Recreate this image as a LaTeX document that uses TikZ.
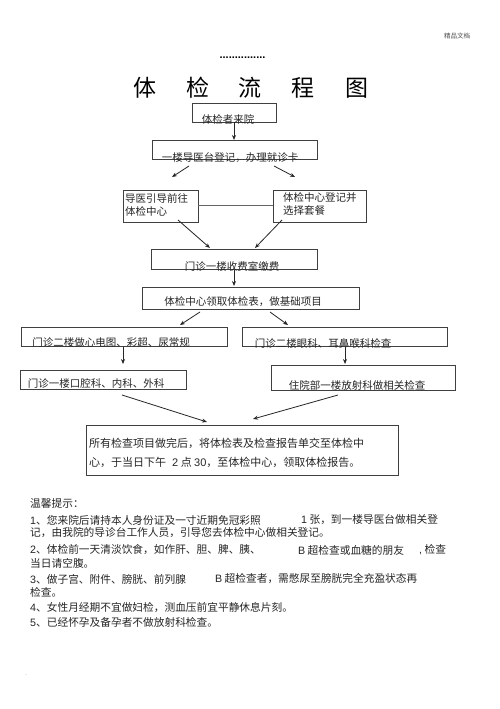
\documentclass[tikz,border=0pt]{standalone}
\usepackage{fontspec}
\setmainfont{Liberation Sans}
\newfontfamily\cjk{Noto Sans CJK SC}
\usetikzlibrary{arrows.meta}
\begin{document}
\begin{tikzpicture}[x=1pt,y=-1pt,
  box/.style={draw=black!75,line width=0.7pt},
  txt/.style={inner sep=0pt,font=\cjk\fontsize{10.5}{12}\selectfont,text=black!85},
  ltxt/.style={txt,anchor=west},
  tip/.style={inner sep=0pt,anchor=west,font=\cjk\fontsize{10.7}{12}\selectfont,text=black!85},
  arr/.style={draw=black!85,line width=0.8pt,-{Stealth[length=5pt,width=4pt]}},
  ttl/.style={inner sep=0pt,font=\cjk\fontsize{23}{25}\selectfont}]
\useasboundingbox (0,0) rectangle (500,709);
\fill[white] (0,0) rectangle (500,709);

% header
\node[inner sep=0pt,font=\cjk\fontsize{6.5}{7}\selectfont,text=black!70] (hdr) at (457,36) {精品文档};
\node[inner sep=0pt,font=\bfseries\fontsize{11}{11}\selectfont] (dots) at (242.5,58) {...............};

% title
\node[ttl] (t1) at (145,88) {体};
\node[ttl] (t2) at (198,88) {检};
\node[ttl] (t3) at (250,88) {流};
\node[ttl] (t4) at (303,88) {程};
\node[ttl] (t5) at (357,88) {图};

% boxes
\path (192,103) coordinate (b1a) (276,122) coordinate (b1b);
\draw[box] (b1a) rectangle (b1b);
\node[txt] (n1) at (228,119) {体检者来院};

\path (152,140) coordinate (b2a) (317,159) coordinate (b2b);
\draw[box] (b2a) rectangle (b2b);
\node[txt] (n2) at (230,157.5) {一楼导医台登记，办理就诊卡};

\path (123,190) coordinate (b3a) (198,222) coordinate (b3b);
\draw[box] (b3a) rectangle (b3b);
\node[ltxt] (n3a) at (125,198) {导医引导前往};
\node[ltxt] (n3b) at (125,211) {体检中心};

\path (273,190) coordinate (b4a) (366,222) coordinate (b4b);
\draw[box] (b4a) rectangle (b4b);
\node[ltxt] (n4a) at (283,198) {体检中心登记并};
\node[ltxt] (n4b) at (283,211) {选择套餐};

\path (151,249) coordinate (b5a) (317,269) coordinate (b5b);
\draw[box] (b5a) rectangle (b5b);
\node[txt] (n5) at (232,266) {门诊一楼收费室缴费};

\path (142,287) coordinate (b6a) (359,309) coordinate (b6b);
\draw[box] (b6a) rectangle (b6b);
\node[txt] (n6) at (243,302) {体检中心领取体检表，做基础项目};

\path (21,327) coordinate (b7a) (227,346) coordinate (b7b);
\draw[box] (b7a) rectangle (b7b);
\node[txt] (n7) at (111,343) {门诊二楼做心电图、彩超、尿常规};

\path (242,327) coordinate (b8a) (447,346) coordinate (b8b);
\draw[box] (b8a) rectangle (b8b);
\node[txt] (n8) at (323,343) {门诊二楼眼科、耳鼻喉科检查};

\path (20,370) coordinate (b9a) (186,389) coordinate (b9b);
\draw[box] (b9a) rectangle (b9b);
\node[txt] (n9) at (96,384) {门诊一楼口腔科、内科、外科};

\path (271,365) coordinate (b10a) (455,390) coordinate (b10b);
\draw[box] (b10a) rectangle (b10b);
\node[txt] (n10) at (357,385) {住院部一楼放射科做相关检查};

\path (86,425) coordinate (b11a) (398,475) coordinate (b11b);
\draw[box] (b11a) rectangle (b11b);
\node[ltxt,font=\cjk\fontsize{11}{12}\selectfont] (n11a) at (89,443) {所有检查项目做完后，将体检表及检查报告单交至体检中};
\node[ltxt,font=\cjk\fontsize{11}{12}\selectfont] (n11b) at (89,462) {心，于当日下午\hspace{6pt}{\rmfamily 2} 点 {\rmfamily 30}，至体检中心，领取体检报告。};

% connectors
\path (234,122) coordinate (a1s) (234,140) coordinate (a1e);
\draw[arr] (a1s) -- (a1e);
\path (189,166) coordinate (a2s) (172,177) coordinate (a2e);
\draw[arr] (a2s) -- (a2e);
\path (274,166) coordinate (a3s) (295,177) coordinate (a3e);
\draw[arr] (a3s) -- (a3e);
\draw[draw=black!60,line width=0.6pt] (198,205) coordinate (l1) -- (273,205) coordinate (l2);
\path (178,220) coordinate (a4s) (210,248) coordinate (a4e);
\draw[arr] (a4s) -- (a4e);
\path (282,220) coordinate (a5s) (255,248) coordinate (a5e);
\draw[arr] (a5s) -- (a5e);
\path (234,270) coordinate (a6s) (234,286) coordinate (a6e);
\draw[arr] (a6s) -- (a6e);
\path (200,312) coordinate (a7s) (180,325) coordinate (a7e);
\draw[arr] (a7s) -- (a7e);
\path (270,312) coordinate (a8s) (288,325) coordinate (a8e);
\draw[arr] (a8s) -- (a8e);
\path (123,347) coordinate (a9s) (123,364) coordinate (a9e);
\draw[arr] (a9s) -- (a9e);
\path (345,347) coordinate (a10s) (345,364) coordinate (a10e);
\draw[arr] (a10s) -- (a10e);
\path (122,395) coordinate (a11s) (207,422) coordinate (a11e);
\draw[arr] (a11s) -- (a11e);
\path (338,395) coordinate (a12s) (253,419) coordinate (a12e);
\draw[arr] (a12s) -- (a12e);

% tips
\node[tip] (p0) at (30,503) {温馨提示：};
\node[tip] (p1a) at (30,520) {{\rmfamily 1}、您来院后请持本人身份证及一寸近期免冠彩照};
\node[tip] (p1b) at (301,520) {{\rmfamily 1} 张，到一楼导医台做相关登};
\node[tip] (p2) at (30,533) {记，由我院的导诊台工作人员，引导您去体检中心做相关登记。};
\node[tip] (p3a) at (30,550) {{\rmfamily 2}、体检前一天清淡饮食，如作肝、胆、脾、胰、};
\node[tip] (p3b) at (298,550) {{\rmfamily B} 超检查或血糖的朋友};
\node[tip] (p3c) at (419,550) {{\rmfamily ,} 检查};
\node[tip] (p4) at (30,563) {当日请空腹。};
\node[tip] (p5a) at (30,579) {{\rmfamily 3}、做子宫、附件、膀胱、前列腺};
\node[tip] (p5b) at (215,579) {{\rmfamily B} 超检查者，需憋尿至膀胱完全充盈状态再};
\node[tip] (p6) at (30,592) {检查。};
\node[tip] (p7) at (30,608) {{\rmfamily 4}、女性月经期不宜做妇检，测血压前宜平静休息片刻。};
\node[tip] (p8) at (30,622) {{\rmfamily 5}、已经怀孕及备孕者不做放射科检查。};
\node[inner sep=0pt,font=\fontsize{5}{5}\selectfont,text=black!60] (dot) at (26,675) {.};
\end{tikzpicture}
\end{document}
